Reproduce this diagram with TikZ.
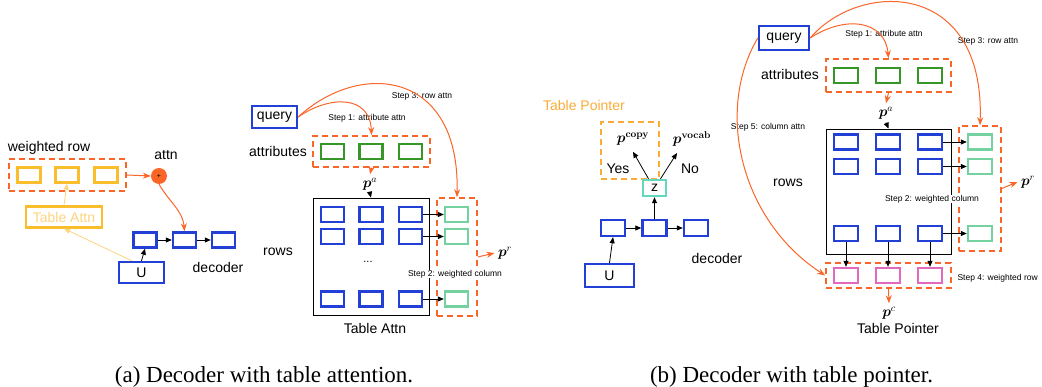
\documentclass[tikz,border=0pt]{standalone}
\usepackage{amsmath}
\usepackage{amsfonts}
\usepackage[no-math]{fontspec}
\setmainfont{Liberation Sans}
\newfontfamily\capfont{Liberation Serif}
\usepackage{tikz}
\usetikzlibrary{arrows.meta}

\definecolor{bluebox}{RGB}{35,64,214}
\definecolor{orangeA}{RGB}{250,102,40}
\definecolor{yellowA}{RGB}{250,190,45}
\definecolor{yellowT}{RGB}{253,212,125}
\definecolor{tpcolor}{RGB}{250,172,55}
\definecolor{greenA}{RGB}{55,150,40}
\definecolor{greenL}{RGB}{115,210,160}
\definecolor{tealA}{RGB}{100,215,190}
\definecolor{pinkA}{RGB}{225,105,190}

\tikzset{
  cell/.style={draw, line width=2.4pt, minimum width=23pt, minimum height=15pt, inner sep=0pt},
  bbox/.style={cell, draw=bluebox},
  gbox/.style={cell, draw=greenA},
  lbox/.style={cell, draw=greenL},
  ybox/.style={cell, draw=yellowA},
  kbox/.style={cell, draw=pinkA},
  obox/.style={draw=orangeA, line width=1.6pt, dash pattern=on 6pt off 4pt, inner sep=0pt},
  lbl/.style={font=\fontsize{14}{16}\selectfont},
  steplbl/.style={font=\fontsize{8.5}{10}\selectfont},
  mlbl/.style={font=\fontsize{14}{16}\selectfont},
  arr/.style={-{Triangle[length=6pt,width=5pt]}, line width=0.8pt},
  oarr/.style={-{Stealth[length=8pt,width=6pt]}, draw=orangeA, line width=1pt},
}

\begin{document}
\begin{tikzpicture}[x=1pt,y=-1pt]
  \useasboundingbox (0,0) rectangle (1042,387);

  % (a) decoder with table attention
  \node[lbl] (wrowlbl) at (49,148) {weighted row};
  \node[obox, minimum width=117pt, minimum height=32pt] (wrow) at (67.5,175) {};
  \node[ybox] (y1) at (29,175) {};
  \node[ybox] (y2) at (67,175) {};
  \node[ybox] (y3) at (106,175) {};
  \node[circle, fill=orangeA, minimum size=16pt, inner sep=0pt, font=\fontsize{7}{7}\selectfont] (attn) at (159,176) {+};
  \node[lbl] (attnlbl) at (166,155) {attn};
  \node[draw=yellowA, line width=2.2pt, minimum width=76pt, minimum height=21pt, text=yellowT, lbl] (tattn) at (64,217) {Table Attn};
  \node[bbox] (d1) at (145,240) {};
  \node[bbox] (d2) at (184.5,240) {};
  \node[bbox] (d3) at (223.5,240) {};
  \node[bbox, minimum width=45pt, minimum height=21pt, lbl] (u) at (141.5,272.5) {U};
  \node[lbl] (declbl) at (218,267) {decoder};

  \draw[oarr] (wrow.east) -- (attn.west);
  \draw[oarr] (attn.south) to[out=-60, in=95] (d2.north);
  \draw[arr, draw=yellowT] (tattn.north) -- (y2.south);
  \draw[arr, draw=yellowT] ([xshift=14pt]u.north west) -- (tattn.south);
  \draw[arr] (u.north) -- (d1.south);
  \draw[arr] (d1.east) -- (d2.west);
  \draw[arr] (d2.east) -- (d3.west);

  % (a) table attention
  \node[bbox, minimum width=45pt, minimum height=22pt, lbl] (query) at (274.5,117) {query};
  \node[lbl] (attrlbl) at (278,151) {attributes};
  \node[obox, minimum width=117pt, minimum height=31pt] (attr) at (371.5,151.5) {};
  \node[gbox] (a1) at (332.5,151.5) {};
  \node[gbox] (a2) at (371,151.5) {};
  \node[gbox] (a3) at (410.5,151.5) {};
  \node[mlbl] (pa) at (370,184) {$\boldsymbol{p}^{a}$};
  \node[draw, line width=0.8pt, minimum width=116pt, minimum height=117pt] (tbl) at (371,256.5) {};
  \node[bbox] (r11) at (332.5,214.5) {};
  \node[bbox] (r12) at (371,214.5) {};
  \node[bbox] (r13) at (410.5,214.5) {};
  \node[bbox] (r21) at (332.5,236.5) {};
  \node[bbox] (r22) at (371,236.5) {};
  \node[bbox] (r23) at (410.5,236.5) {};
  \node[bbox] (r31) at (332.5,299) {};
  \node[bbox] (r32) at (371,299) {};
  \node[bbox] (r33) at (410.5,299) {};
  \node[font=\fontsize{11}{12}\selectfont] (dots) at (368,262) {...};
  \node[lbl] (rowslbl) at (278,252) {rows};
  \node[lbl] (tattnlbl) at (375,328) {Table Attn};
  \node[obox, minimum width=40pt, minimum height=118pt] (col) at (457,257) {};
  \node[lbox] (c1) at (456.5,214.5) {};
  \node[lbox] (c2) at (456.5,236.5) {};
  \node[lbox] (c3) at (456.5,299) {};
  \node[mlbl] (pr) at (505,253) {$\boldsymbol{p}^{r}$};
  \node[steplbl] (step1) at (367,118) {Step 1: attribute attn};
  \node[steplbl, fill=white, inner sep=0.5pt] (step2) at (455,274) {Step 2: weighted column};
  \node[steplbl] (step3) at (422,96) {Step 3: row attn};

  \draw[oarr] (query.east) .. controls (330,95) and (370,95) .. (attr.north);
  \draw[oarr] (query.east) .. controls (360,60) and (460,70) .. (col.north);
  \draw[oarr] (attr.south) -- (pa.north);
  \draw[arr] (pa.south) -- (tbl.north);
  \draw[arr] (r13.east) -- (c1.west);
  \draw[arr] (r23.east) -- (c2.west);
  \draw[arr] (r33.east) -- (c3.west);
  \draw[oarr] (col.east) -- (pr.west);

  % (b) decoder with table pointer
  \node[lbl, text=tpcolor] (tplbl) at (584,105) {Table Pointer};
  \node[draw=tpcolor, line width=1.6pt, dash pattern=on 6pt off 4pt, minimum width=58pt, minimum height=57pt] (tpbox) at (630,150.5) {};
  \node[mlbl] (pcopy) at (633,139) {$\boldsymbol{p}^{\mathbf{copy}}$};
  \node[mlbl] (pvocab) at (692,139) {$\boldsymbol{p}^{\mathbf{vocab}}$};
  \node[lbl] (yes) at (618,169) {Yes};
  \node[lbl] (no) at (690,169) {No};
  \node[cell, draw=tealA, minimum width=23pt, minimum height=16pt, lbl] (z) at (654.5,188) {z};
  \node[bbox, minimum width=24pt, minimum height=16pt] (e1) at (613,228) {};
  \node[bbox, minimum width=24pt, minimum height=16pt] (e2) at (654.5,228) {};
  \node[bbox, minimum width=24pt, minimum height=16pt] (e3) at (696,228) {};
  \node[bbox, minimum width=49pt, minimum height=23pt, lbl] (u2) at (609.5,275.5) {U};
  \node[lbl] (dec2lbl) at (717,258) {decoder};

  \draw[arr] ([xshift=-6pt]z.north) -- ([yshift=-3pt]pcopy.south);
  \draw[arr] ([xshift=6pt]z.north) -- ([xshift=-15pt,yshift=-3pt]pvocab.south);
  \draw[arr] (e2.north) -- (z.south);
  \draw[arr] (u2.north) -- (e1.south);
  \draw[arr] (e1.east) -- (e2.west);
  \draw[arr] (e2.east) -- (e3.west);

  % (b) table pointer
  \node[bbox, minimum width=50pt, minimum height=24pt, lbl] (query2) at (784,38) {query};
  \node[lbl] (attr2lbl) at (790,74) {attributes};
  \node[obox, minimum width=125pt, minimum height=33pt] (attr2) at (888.5,75.5) {};
  \node[gbox, minimum width=24pt] (b1) at (846,75.5) {};
  \node[gbox, minimum width=24pt] (b2) at (888,75.5) {};
  \node[gbox, minimum width=24pt] (b3) at (930,75.5) {};
  \node[mlbl] (pa2) at (886,113) {$\boldsymbol{p}^{a}$};
  \node[draw, line width=0.8pt, minimum width=125pt, minimum height=125pt] (tbl2) at (888.5,191.5) {};
  \node[bbox, minimum width=24pt] (s11) at (846,142) {};
  \node[bbox, minimum width=24pt] (s12) at (888,142) {};
  \node[bbox, minimum width=24pt] (s13) at (930,142) {};
  \node[bbox, minimum width=24pt] (s21) at (846,166.5) {};
  \node[bbox, minimum width=24pt] (s22) at (888,166.5) {};
  \node[bbox, minimum width=24pt] (s23) at (930,166.5) {};
  \node[bbox, minimum width=24pt] (s31) at (846,233.5) {};
  \node[bbox, minimum width=24pt] (s32) at (888,233.5) {};
  \node[bbox, minimum width=24pt] (s33) at (930,233.5) {};
  \node[lbl] (rows2lbl) at (788,183) {rows};
  \node[obox, minimum width=42pt, minimum height=125pt] (col2) at (980,188.5) {};
  \node[lbox, minimum width=24pt] (g1) at (980,142) {};
  \node[lbox, minimum width=24pt] (g2) at (980,166.5) {};
  \node[lbox, minimum width=24pt] (g3) at (980,233.5) {};
  \node[mlbl] (pr2) at (1028,182) {$\boldsymbol{p}^{r}$};
  \node[obox, minimum width=125pt, minimum height=25pt] (wrow2) at (888.5,275.5) {};
  \node[kbox, minimum width=24pt] (k1) at (846,275.5) {};
  \node[kbox, minimum width=24pt] (k2) at (888,275.5) {};
  \node[kbox, minimum width=24pt] (k3) at (930,275.5) {};
  \node[mlbl] (pc) at (889,313) {$\boldsymbol{p}^{c}$};
  \node[lbl] (tp2lbl) at (898,328) {Table Pointer};
  \node[steplbl] (s1lbl) at (884,34) {Step 1: attribute attn};
  \node[steplbl, fill=white, inner sep=0.5pt] (s2lbl) at (932,199) {Step 2: weighted column};
  \node[steplbl] (s3lbl) at (988,41) {Step 3: row attn};
  \node[steplbl, anchor=west] (s4lbl) at (954,278) {Step 4: weighted row};
  \node[steplbl] (s5lbl) at (768,127) {Step 5: column attn};

  \draw[oarr] (query2.east) .. controls (845,15) and (885,20) .. (attr2.north);
  \draw[oarr] (query2.east) .. controls (860,-20) and (985,-20) .. (col2.north);
  \draw[oarr] (query2.west) .. controls (715,110) and (740,220) .. (wrow2.west);
  \draw[oarr] (attr2.south) -- (pa2.north);
  \draw[arr] (pa2.south) -- (tbl2.north);
  \draw[arr] (s13.east) -- (g1.west);
  \draw[arr] (s23.east) -- (g2.west);
  \draw[arr] (s33.east) -- (g3.west);
  \draw[arr] (s31.south) -- (k1.north);
  \draw[arr] (s32.south) -- (k2.north);
  \draw[arr] (s33.south) -- (k3.north);
  \draw[oarr] (col2.east) -- (pr2.west);
  \draw[oarr] (wrow2.south) -- (pc.north);

  % captions
  \node[anchor=base, font=\capfont\fontsize{23}{26}\selectfont] (capa) at (264,383) {(a) Decoder with table attention.};
  \node[anchor=base, font=\capfont\fontsize{23}{26}\selectfont] (capb) at (791.5,383) {(b) Decoder with table pointer.};
\end{tikzpicture}
\end{document}
